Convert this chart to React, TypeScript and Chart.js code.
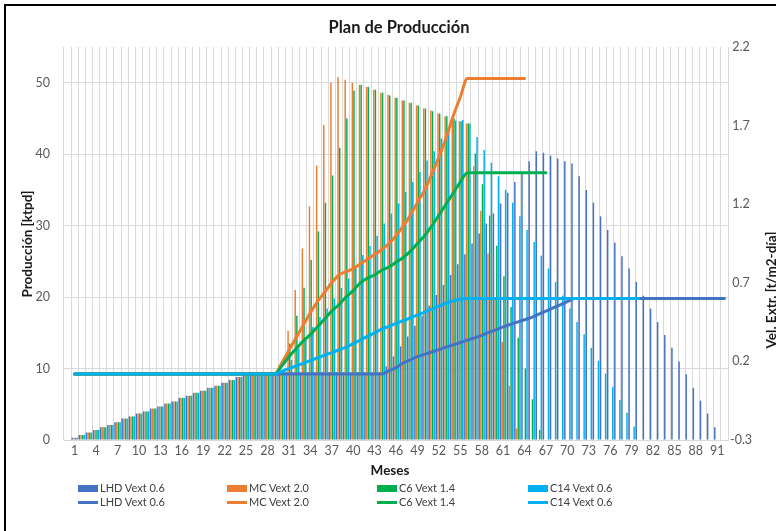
import React, { useEffect, useRef } from "react";
import { Chart, registerables } from "chart.js";

Chart.register(...registerables);

const FONT = "Lato, 'Open Sans', sans-serif";

const LHD_COLOR = "#4472C4";
const MC_COLOR = "#ED7D31";
const C6_COLOR = "#00B050";
const C14_COLOR = "#00B0F0";

// Month numbers 0..92 on the category axis (month 0 is the empty start slot)
const months: string[] = Array.from({ length: 93 }, (_, i) => String(i));

// Shared ramp-up of all methods, months 0-25
const rampUp = [
  null, 0.3, 0.7, 1.05, 1.4, 1.8, 2.1, 2.5, 3.0, 3.3, 3.7, 4.0, 4.4, 4.7, 5.1,
  5.4, 5.9, 6.2, 6.6, 6.9, 7.3, 7.6, 8.0, 8.4, 8.8, 9.2,
];

// Production [ktpd] by month, months 26-92
const lhdProd = [
  9.5, 9.5, 9.5, 9.5, 9.5, 9.5, 9.5, 9.5, 9.5, 9.5, 9.5, 9.5, 9.5, 9.5, 9.5,
  9.5, 9.5, 9.5, 9.5, 10.3, 11.7, 13.1, 14.5, 16.0, 17.4, 18.8, 20.3, 21.7,
  23.1, 24.6, 26.0, 27.5, 28.9, 30.3, 31.7, 33.1, 34.6, 36.1, 37.5, 39.0, 40.4,
  40.2, 39.8, 39.4, 39.0, 38.7, 36.9, 35.0, 33.2, 31.3, 29.4, 27.6, 25.7, 24.0,
  22.1, 20.2, 18.4, 16.5, 14.7, 12.9, 11.0, 9.2, 7.3, 5.5, 3.7, 1.8, null,
];
const mcProd = [
  9.5, 9.5, 9.5, 9.5, 9.5, 15.3, 21.0, 26.8, 32.7, 38.4, 44.1, 50.0, 50.8,
  50.4, 50.0, 49.7, 49.4, 49.0, 48.6, 48.3, 47.9, 47.5, 47.2, 46.8, 46.4, 46.1,
  45.7, 45.3, 45.0, 44.6, 44.3, 38.3, 32.1, 26.1, 20.0, 13.7, 7.6, 1.6, null,
  null, null, null, null, null, null, null, null, null, null, null, null, null,
  null, null, null, null, null, null, null, null, null, null, null, null, null,
  null, null,
];
const c6Prod = [
  9.5, 9.5, 9.5, 9.5, 9.5, 13.5, 17.4, 21.3, 25.2, 29.2, 33.2, 37.0, 40.9,
  45.0, 48.9, 49.7, 49.4, 49.0, 48.6, 48.2, 47.9, 47.5, 47.2, 46.8, 46.4, 46.0,
  45.7, 45.3, 45.0, 44.6, 44.3, 40.1, 35.8, 31.4, 27.2, 22.9, 18.6, 14.3, 10.0,
  5.7, 1.4, null, null, null, null, null, null, null, null, null, null, null,
  null, null, null, null, null, null, null, null, null, null, null, null, null,
  null, null,
];
const c14Prod = [
  9.5, 9.5, 9.5, 9.5, 9.5, 11.2, 12.8, 14.4, 15.8, 17.2, 18.4, 19.8, 21.3,
  22.6, 24.4, 25.9, 27.2, 28.6, 30.3, 31.7, 33.1, 34.7, 36.1, 37.5, 39.1, 40.4,
  42.2, 43.6, 44.7, 44.8, 44.3, 42.4, 40.6, 38.8, 36.9, 35.0, 33.2, 31.3, 29.4,
  27.7, 25.8, 24.0, 22.1, 20.2, 18.4, 16.5, 14.8, 12.9, 11.1, 9.3, 7.4, 5.6,
  3.8, 1.9, null, null, null, null, null, null, null, null, null, null, null,
  null, null,
];

// Extraction rate [t/m2-día] by month, months 0-92
const lhdRate = [
  null, 0.12, 0.12, 0.12, 0.12, 0.12, 0.12, 0.12, 0.12, 0.12, 0.12, 0.12, 0.12,
  0.12, 0.12, 0.12, 0.12, 0.12, 0.12, 0.12, 0.12, 0.12, 0.12, 0.12, 0.12, 0.12,
  0.12, 0.12, 0.12, 0.12, 0.12, 0.12, 0.12, 0.12, 0.12, 0.12, 0.12, 0.12, 0.12,
  0.12, 0.12, 0.12, 0.12, 0.12, 0.12, 0.14, 0.16, 0.19, 0.21, 0.23, 0.245, 0.26,
  0.275, 0.29, 0.305, 0.32, 0.335, 0.35, 0.365, 0.385, 0.4, 0.42, 0.435, 0.45,
  0.465, 0.48, 0.5, 0.52, 0.54, 0.56, 0.58, 0.6, 0.6, 0.6, 0.6, 0.6, 0.6, 0.6,
  0.6, 0.6, 0.6, 0.6, 0.6, 0.6, 0.6, 0.6, 0.6, 0.6, 0.6, 0.6, 0.6, 0.6, 0.6,
];
const mcRate = [
  null, 0.12, 0.12, 0.12, 0.12, 0.12, 0.12, 0.12, 0.12, 0.12, 0.12, 0.12, 0.12,
  0.12, 0.12, 0.12, 0.12, 0.12, 0.12, 0.12, 0.12, 0.12, 0.12, 0.12, 0.12, 0.12,
  0.12, 0.12, 0.12, 0.12, 0.19, 0.27, 0.35, 0.43, 0.51, 0.58, 0.64, 0.7, 0.75,
  0.77, 0.79, 0.82, 0.85, 0.88, 0.91, 0.95, 1.0, 1.06, 1.13, 1.21, 1.29, 1.39,
  1.5, 1.62, 1.76, 1.88, 2.0, 2.0, 2.0, 2.0, 2.0, 2.0, 2.0, 2.0, 2.0, null, null,
  null, null, null, null, null, null, null, null, null, null, null, null, null,
  null, null, null, null, null, null, null, null, null, null, null, null, null,
];
const c6Rate = [
  null, 0.12, 0.12, 0.12, 0.12, 0.12, 0.12, 0.12, 0.12, 0.12, 0.12, 0.12, 0.12,
  0.12, 0.12, 0.12, 0.12, 0.12, 0.12, 0.12, 0.12, 0.12, 0.12, 0.12, 0.12, 0.12,
  0.12, 0.12, 0.12, 0.12, 0.17, 0.23, 0.28, 0.33, 0.37, 0.42, 0.47, 0.52, 0.56,
  0.61, 0.65, 0.7, 0.73, 0.75, 0.78, 0.8, 0.83, 0.86, 0.9, 0.95, 1.0, 1.06, 1.13,
  1.2, 1.27, 1.34, 1.4, 1.4, 1.4, 1.4, 1.4, 1.4, 1.4, 1.4, 1.4, 1.4, 1.4, 1.4,
  null, null, null, null, null, null, null, null, null, null, null, null, null,
  null, null, null, null, null, null, null, null, null, null, null, null,
];
const c14Rate = [
  null, 0.12, 0.12, 0.12, 0.12, 0.12, 0.12, 0.12, 0.12, 0.12, 0.12, 0.12, 0.12,
  0.12, 0.12, 0.12, 0.12, 0.12, 0.12, 0.12, 0.12, 0.12, 0.12, 0.12, 0.12, 0.12,
  0.12, 0.12, 0.12, 0.12, 0.137, 0.154, 0.171, 0.188, 0.205, 0.222, 0.239,
  0.256, 0.273, 0.29, 0.313, 0.336, 0.359, 0.382, 0.405, 0.423, 0.441, 0.459,
  0.477, 0.495, 0.514, 0.533, 0.552, 0.57, 0.585, 0.595, 0.6, 0.6, 0.6, 0.6,
  0.6, 0.6, 0.6, 0.6, 0.6, 0.6, 0.6, 0.6, 0.6, 0.6, 0.6, 0.6, 0.6, 0.6, 0.6,
  0.6, 0.6, 0.6, 0.6, 0.6, 0.6, null, null, null, null, null, null, null, null,
  null, null, null, null,
];

const seriesNames = ["LHD Vext 0.6", "MC Vext 2.0", "C6 Vext 1.4", "C14 Vext 0.6"];
const seriesColors = [LHD_COLOR, MC_COLOR, C6_COLOR, C14_COLOR];
const prodSeries = [lhdProd, mcProd, c6Prod, c14Prod];
const rateSeries = [lhdRate, mcRate, c6Rate, c14Rate];

const legendLeft = [78, 227, 377, 528];

const GRID = "#D9D9D9";
const TICK = "#595959";

export default function App() {
  const canvasRef = useRef<HTMLCanvasElement>(null);

  useEffect(() => {
    const canvas = canvasRef.current;
    if (!canvas) return;

    const barSets = prodSeries.map((vals, i) => ({
      type: "bar" as const,
      label: seriesNames[i],
      data: [...rampUp, ...vals],
      backgroundColor: seriesColors[i],
      borderWidth: 0,
      yAxisID: "y",
      order: 10 + i,
      categoryPercentage: 0.94,
      barPercentage: 0.88,
    }));

    // lower order draws on top: C14 line last over the others
    const lineSets = rateSeries.map((vals, i) => ({
      type: "line" as const,
      label: seriesNames[i],
      data: vals,
      borderColor: seriesColors[i],
      backgroundColor: seriesColors[i],
      borderWidth: 3,
      pointRadius: 0,
      pointHoverRadius: 0,
      fill: false,
      cubicInterpolationMode: "monotone" as const,
      borderCapStyle: "round" as const,
      yAxisID: "y1",
      order: 3 - i,
    }));

    const tickFont = { family: FONT, size: 12.5 };

    const chart = new Chart(canvas, {
      type: "bar",
      data: { labels: months, datasets: [...barSets, ...lineSets] as any },
      options: {
        animation: false,
        responsive: false,
        maintainAspectRatio: false,
        devicePixelRatio: 1,
        layout: { padding: { top: 47, left: 0, right: 0, bottom: 0 } },
        plugins: {
          legend: { display: false },
          tooltip: { enabled: false },
          title: { display: false },
        },
        scales: {
          x: {
            type: "category",
            offset: true,
            grid: { color: GRID, offset: true, drawTicks: false, lineWidth: 1 },
            border: { color: GRID },
            ticks: {
              autoSkip: false,
              maxRotation: 0,
              minRotation: 0,
              padding: 3,
              color: TICK,
              font: tickFont,
              callback: (_v: any, i: number) => (i % 3 === 1 ? months[i] : ""),
            },
            afterFit: (s: any) => {
              s.height = 22;
            },
          },
          y: {
            position: "left",
            min: 0,
            max: 55,
            bounds: "data",
            grid: { color: GRID, drawTicks: false, lineWidth: 1 },
            border: { display: false },
            ticks: {
              stepSize: 10,
              padding: 14,
              color: TICK,
              font: tickFont,
            },
            afterBuildTicks: (s: any) => {
              s.ticks = s.ticks.filter((t: any) => t.value <= 50);
            },
            afterFit: (s: any) => {
              s.width = 64;
            },
          },
          y1: {
            position: "right",
            min: -0.3,
            max: 2.2,
            bounds: "data",
            grid: { display: false, drawTicks: false },
            border: { display: false },
            ticks: {
              stepSize: 0.5,
              padding: 2,
              crossAlign: "center",
              color: TICK,
              font: tickFont,
              callback: (v: any) => Number(v).toFixed(1),
            },
            afterFit: (s: any) => {
              s.width = 48;
            },
          },
        },
      } as any,
    });

    return () => chart.destroy();
  }, []);

  const titleStyle: React.CSSProperties = {
    position: "absolute",
    fontFamily: FONT,
    fontWeight: 700,
    color: "#1a1a1a",
    textAlign: "center",
    whiteSpace: "nowrap",
  };

  return (
    <div
      style={{
        position: "fixed",
        left: 0,
        top: 0,
        width: 776,
        height: 531,
        overflow: "hidden",
        background: "#fff",
      }}
    >
      <div
        style={{
          position: "absolute",
          left: 4,
          top: 4,
          width: 900,
          height: 700,
          border: "2px solid #000",
          boxSizing: "border-box",
        }}
      />
      <canvas
        ref={canvasRef}
        width={776}
        height={462}
        style={{ position: "absolute", left: 0, top: 0, width: 776, height: 462 }}
      />
      <div style={{ ...titleStyle, left: 0, top: 17, width: 798, fontSize: 16.5, lineHeight: "20px" }}>
        Plan de Producción
      </div>
      <div
        style={{
          ...titleStyle,
          left: -73,
          top: 234.5,
          width: 200,
          fontSize: 13.5,
          lineHeight: "18px",
          transform: "rotate(-90deg)",
        }}
      >
        Producción [ktpd]
      </div>
      <div
        style={{
          ...titleStyle,
          left: 671,
          top: 281,
          width: 200,
          fontSize: 13.5,
          lineHeight: "18px",
          transform: "rotate(-90deg)",
        }}
      >
        Vel. Extr. [t/m2-día]
      </div>
      <div style={{ ...titleStyle, left: 290, top: 461, width: 200, fontSize: 13.5, lineHeight: "18px" }}>
        Meses
      </div>
      {seriesNames.map((name, i) => (
        <React.Fragment key={name}>
          <div
            style={{
              position: "absolute",
              left: legendLeft[i],
              top: 485,
              width: 20,
              height: 7,
              background: seriesColors[i],
            }}
          />
          <div
            style={{
              position: "absolute",
              left: legendLeft[i] + 22,
              top: 481,
              fontFamily: FONT,
              fontSize: 11,
              lineHeight: "14px",
              color: "#404040",
              whiteSpace: "nowrap",
            }}
          >
            {name}
          </div>
          <div
            style={{
              position: "absolute",
              left: legendLeft[i],
              top: 501,
              width: 20,
              height: 3,
              background: seriesColors[i],
            }}
          />
          <div
            style={{
              position: "absolute",
              left: legendLeft[i] + 22,
              top: 495,
              fontFamily: FONT,
              fontSize: 11,
              lineHeight: "14px",
              color: "#404040",
              whiteSpace: "nowrap",
            }}
          >
            {name}
          </div>
        </React.Fragment>
      ))}
    </div>
  );
}
